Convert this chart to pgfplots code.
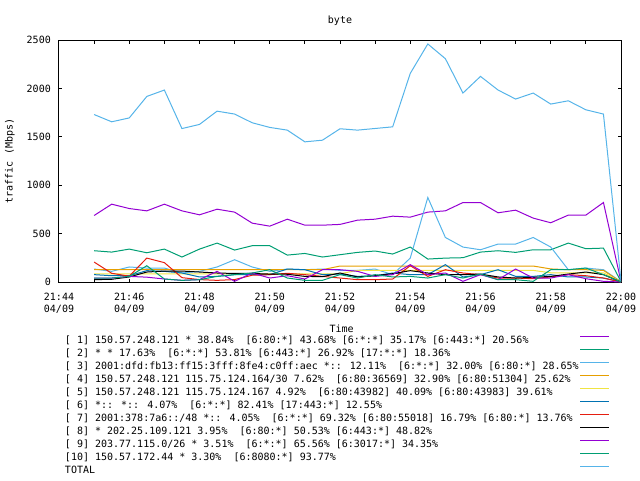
\documentclass[border=0pt]{standalone}
\usepackage{fontspec}
\setmainfont{DejaVu Sans Mono}
\usepackage{pgfplots}
\usepackage{pgfplotstable}
\pgfplotsset{compat=1.18}
% gnuplot default line colours
\definecolor{gpA}{HTML}{9400D3}
\definecolor{gpB}{HTML}{009E73}
\definecolor{gpC}{HTML}{56B4E9}
\definecolor{gpD}{HTML}{E69F00}
\definecolor{gpE}{HTML}{F0E442}
\definecolor{gpF}{HTML}{0072B2}
\definecolor{gpG}{HTML}{E51E10}
\definecolor{gpH}{HTML}{000000}

% t = minutes after 21:44 (04/09), values in Mbps
\pgfplotstableread{
t    s1  s2  s3  s4  s5  s6  s7  s8  s9  s10 tot
1.0  687 323 134 127 85  76  206 24  41  41  1730
1.5  804 309 110 127 85  65  90  28  41  41  1655
2.0  759 340 155 127 85  65  60  52  58  58  1695
2.5  735 302 144 127 85  117 247 103 50  168 1917
3.0  804 340 144 127 85  110 200 113 31  31  1983
3.5  735 258 93  127 85  93  45  113 17  17  1585
4.0  694 340 110 127 85  52  25  103 25  24  1628
4.5  752 402 155 127 85  58  17  93  110 58  1765
5.0  722 330 230 127 85  76  25  88  7   76  1735
5.5  608 375 155 127 85  76  70  88  93  93  1645
6.0  577 375 110 127 85  76  76  82  41  127 1597
6.5  649 278 134 127 85  134 90  80  65  41  1569
7.0  587 295 127 127 85  127 76  58  31  17  1448
7.5  587 258 134 127 85  76  58  55  127 17  1465
8.0  595 282 120 165 85  82  41  93  127 76  1583
8.5  639 306 120 165 120 58  24  52  110 41  1569
9.0  649 320 134 165 120 65  24  65  58  76  1586
9.5  680 289 76  165 120 93  31  86  76  52  1603
10.0 670 361 247 165 120 76  168 117 179 58  2155
10.5 722 237 873 165 120 76  58  93  76  41  2459
11.0 735 247 460 165 120 179 127 76  93  76  2307
11.5 821 251 361 165 120 52  93  76  7   41  1952
12.0 821 309 333 165 120 76  76  82  76  82  2124
12.5 715 323 392 165 120 127 41  52  24  24  1983
13.0 742 306 392 165 120 58  41  41  134 24  1890
13.5 660 333 460 165 120 58  34  48  41  7   1952
14.0 612 333 361 135 95  76  52  58  41  127 1838
14.5 691 402 127 127 95  52  76  82  76  127 1872
15.0 691 344 144 127 95  52  65  103 34  144 1779
15.5 821 350 127 120 95  41  41  76  7   76  1735
16.0 5   5   3   0   0   0   0   0   0   0   10
}\traffic

\newcommand{\lgd}[1]{\makebox[515pt][l]{#1}}

\begin{document}
\begin{tikzpicture}
\useasboundingbox (0,0) rectangle (640pt,480pt);
\begin{axis}[
    at={(59pt,198pt)}, anchor=south west,
    scale only axis, width=562pt, height=242pt,
    xmin=0, xmax=16, ymin=0, ymax=2500,
    font=\fontsize{10}{11.6}\selectfont,
    /pgf/number format/assume math mode=true,
    /pgf/number format/1000 sep={},
    axis line style={black, line width=1pt},
    tick style={black, line width=1pt},
    tick align=inside,
    major tick length=3.5pt, minor tick length=3.5pt,
    xtick={0,2,...,16}, minor xtick={1,3,...,15},
    xticklabels={{21:44\\04/09},{21:46\\04/09},{21:48\\04/09},{21:50\\04/09},
                 {21:52\\04/09},{21:54\\04/09},{21:56\\04/09},{21:58\\04/09},{22:00\\04/09}},
    xticklabel style={align=center, inner sep=0pt, anchor=north, yshift=-11pt},
    ytick={0,500,...,2500},
    yticklabel style={inner sep=0pt, anchor=east, xshift=-8pt},
    title={byte},
    title style={at={(axis description cs:0.5,1)}, anchor=center, inner sep=0pt, yshift=13pt},
    xlabel={Time},
    xlabel style={at={(axis description cs:0.503,-0.1913)}, anchor=center, inner sep=0pt},
    ylabel={traffic (Mbps)},
    ylabel style={at={(axis description cs:-0.0872,0.5)}, anchor=center, inner sep=0pt},
    no markers,
    every axis plot/.append style={line width=1pt},
    legend plot pos=right,
    legend cell align=left,
    legend image code/.code={%
        \path[draw=none, fill=none] (0pt,0pt) -- (0pt,3.6pt);
        \draw[#1] (0pt,3.6pt) -- (29pt,3.6pt);},
    legend style={draw=none, fill=none, inner sep=0pt, outer sep=0pt,
        row sep=0pt, column sep=0pt,
        at={(axis description cs:0,0)}, anchor=north west,
        xshift=6pt, yshift=-52pt,
        nodes={inner sep=0pt, text height=9pt, text depth=4pt}},
]
\addplot[gpA] table[x=t, y=s1]{\traffic};
\addlegendentry{\lgd{[ 1] 150.57.248.121 * 38.84\%~ [6:80:*] 43.68\% [6:*:*] 35.17\% [6:443:*] 20.56\%}}
\addplot[gpB] table[x=t, y=s2]{\traffic};
\addlegendentry{\lgd{[ 2] * * 17.63\%~ [6:*:*] 53.81\% [6:443:*] 26.92\% [17:*:*] 18.36\%}}
\addplot[gpC] table[x=t, y=s3]{\traffic};
\addlegendentry{\lgd{[ 3] 2001:dfd:fb13:ff15:3fff:8fe4:c0ff:aec *:: 12.11\%~ [6:*:*] 32.00\% [6:80:*] 28.65\%}}
\addplot[gpD] table[x=t, y=s4]{\traffic};
\addlegendentry{\lgd{[ 4] 150.57.248.121 115.75.124.164/30 7.62\%~ [6:80:36569] 32.90\% [6:80:51304] 25.62\%}}
\addplot[gpE] table[x=t, y=s5]{\traffic};
\addlegendentry{\lgd{[ 5] 150.57.248.121 115.75.124.167 4.92\%~ [6:80:43982] 40.09\% [6:80:43983] 39.61\%}}
\addplot[gpF] table[x=t, y=s6]{\traffic};
\addlegendentry{\lgd{[ 6] *:: *:: 4.07\%~ [6:*:*] 82.41\% [17:443:*] 12.55\%}}
\addplot[gpG] table[x=t, y=s7]{\traffic};
\addlegendentry{\lgd{[ 7] 2001:378:7a6::/48 *:: 4.05\%~ [6:*:*] 69.32\% [6:80:55018] 16.79\% [6:80:*] 13.76\%}}
\addplot[gpH] table[x=t, y=s8]{\traffic};
\addlegendentry{\lgd{[ 8] * 202.25.109.121 3.95\%~ [6:80:*] 50.53\% [6:443:*] 48.82\%}}
\addplot[gpA] table[x=t, y=s9]{\traffic};
\addlegendentry{\lgd{[ 9] 203.77.115.0/26 * 3.51\%~ [6:*:*] 65.56\% [6:3017:*] 34.35\%}}
\addplot[gpB] table[x=t, y=s10]{\traffic};
\addlegendentry{\lgd{[10] 150.57.172.44 * 3.30\%~ [6:8080:*] 93.77\%}}
\addplot[gpC] table[x=t, y=tot]{\traffic};
\addlegendentry{\lgd{TOTAL}}
\end{axis}
\end{tikzpicture}
\end{document}
